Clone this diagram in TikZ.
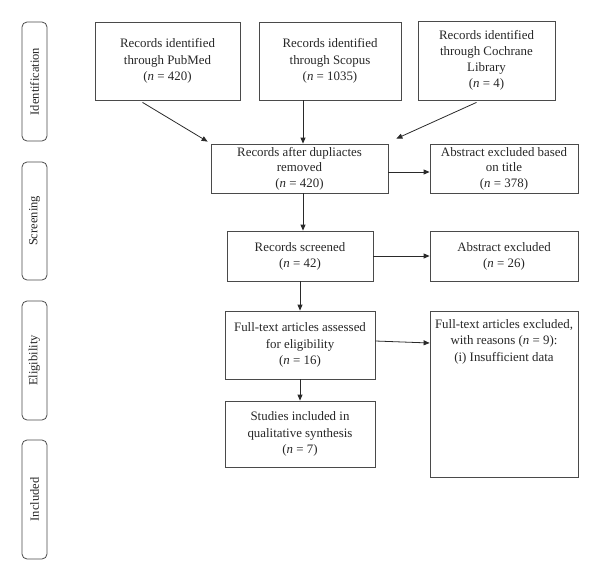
\documentclass[tikz,border=0pt]{standalone}
\usepackage{fontspec}
\setmainfont{Liberation Serif}
\usetikzlibrary{arrows.meta,calc}
\definecolor{ln}{HTML}{4A4A4A}
\definecolor{tx}{HTML}{262626}
\definecolor{ar}{HTML}{2A2A2A}
\begin{document}
\begin{tikzpicture}[x=1pt,y=-1pt,
  box/.style={draw=ln,line width=0.8pt,rectangle,inner sep=0pt,align=center,text=tx,
    font=\fontsize{12.9}{16.2}\selectfont},
  side/.style={draw=ln,line width=0.8pt,rounded corners=5pt,inner sep=0pt,rotate=90,
    minimum height=25pt,text=tx,font=\fontsize{12.5}{14}\selectfont},
  arr/.style={draw=ar,line width=0.8pt,-{Triangle[length=6pt,width=5pt]}}]
\useasboundingbox (0,0) rectangle (600,581);
% side labels
\node[side,minimum width=119pt] (sid) at (34.5,81.5) {Identification};
\node[side,minimum width=118pt] (ssc) at (34.5,221) {Screening};
\node[side,minimum width=119pt] (sel) at (34.5,360.5) {Eligibility};
\node[side,minimum width=119pt] (sin) at (34.5,499.5) {Included};
% boxes
\node[box,minimum width=145pt,minimum height=78pt] (pub) at (167.5,61)
  {Records identified\\through PubMed\\(\textit{n} = 420)};
\node[box,minimum width=142pt,minimum height=78pt] (scop) at (330,61)
  {Records identified\\through Scopus\\(\textit{n} = 1035)};
\node[box,minimum width=137pt,minimum height=79pt] (coch) at (486.5,60.5)
  {Records identified\\through Cochrane\\Library\\(\textit{n} = 4)};
\node[box,minimum width=177pt,minimum height=49pt,font=\fontsize{12.9}{15.4}\selectfont] (dup) at (299.5,168.5)
  {Records after dupliactes\\removed\\(\textit{n} = 420)};
\node[box,minimum width=148pt,minimum height=49pt,font=\fontsize{12.9}{15.4}\selectfont] (abt) at (504,168.5)
  {Abstract excluded based\\on title\\(\textit{n} = 378)};
\node[box,minimum width=146pt,minimum height=50pt] (scr) at (300,256)
  {Records screened\\(\textit{n} = 42)};
\node[box,minimum width=148pt,minimum height=50pt] (abx) at (504,256)
  {Abstract excluded\\(\textit{n} = 26)};
\node[box,minimum width=150pt,minimum height=68pt] (full) at (300,345)
  {Full-text articles assessed\\for eligibility\\(\textit{n} = 16)};
\node[box,minimum width=148pt,minimum height=166pt] (fx) at (504,394) {};
\node[align=center,text=tx,font=\fontsize{12.9}{16.2}\selectfont,anchor=north,inner sep=0pt]
  (fxt) at ($(fx.north)+(0,9)$)
  {Full-text articles excluded,\\with reasons (\textit{n} = 9):\\(i) Insufficient data};
\node[box,minimum width=150pt,minimum height=66pt] (stu) at (300,434)
  {Studies included in\\qualitative synthesis\\(\textit{n} = 7)};
% connectors
\coordinate (xa) at (303,0);
\coordinate (xb) at (300,0);
\draw[arr] ($(pub.south)+(-25,2)$) -- ($(dup.north west)+(-3,-2)$);
\draw[arr] (scop.south -| xa) -- (dup.north -| xa);
\draw[arr] ($(coch.south)+(-10,2)$) -- ($(dup.north east)+(8,-5)$);
\draw[arr] ($(dup.east)+(0,3.5)$) -- ($(abt.west)+(0,3.5)$);
\draw[arr] (dup.south -| xa) -- (scr.north -| xa);
\draw[arr] (scr.east) -- (abx.west);
\draw[arr] (scr.south -| xb) -- (full.north -| xb);
\draw[arr] ($(full.east)+(0,-4)$) -- ($(fx.west |- full.east)+(0,-2)$);
\draw[arr] (full.south -| xb) -- (stu.north -| xb);
\end{tikzpicture}
\end{document}
